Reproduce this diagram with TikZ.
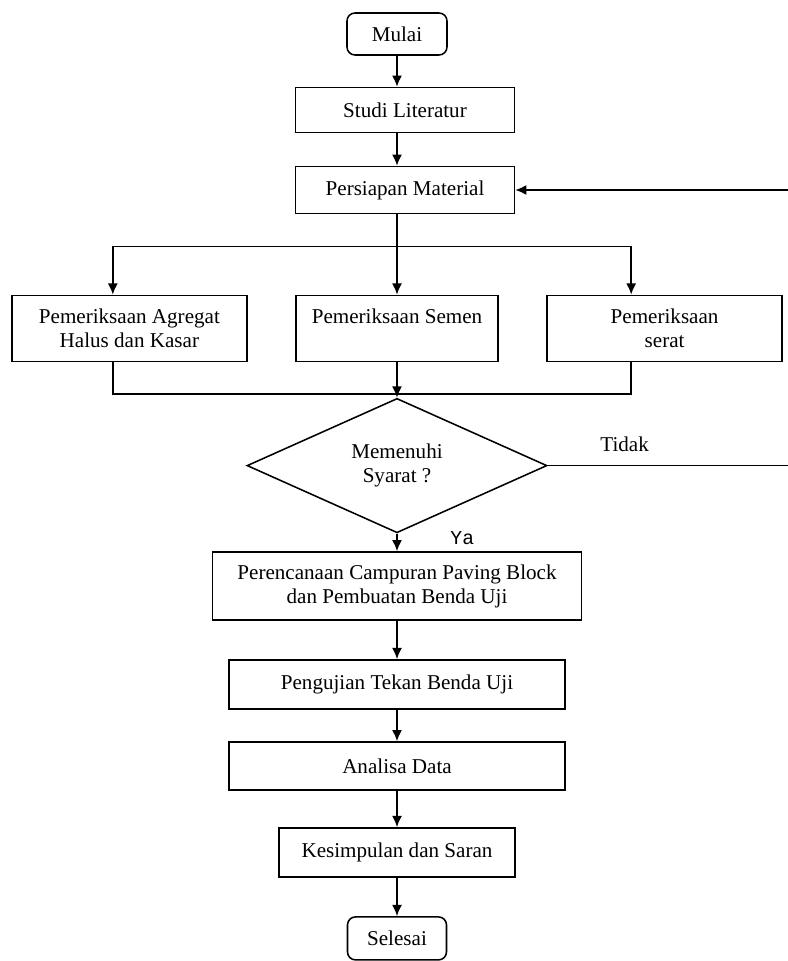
\documentclass[tikz,border=0pt]{standalone}
\usepackage{fontspec}
\setmainfont{Liberation Serif}
\setmonofont{Liberation Mono}
\usetikzlibrary{arrows.meta, shapes}

\begin{document}
\begin{tikzpicture}[node distance=2cm, auto, line width=1.1pt,
    font=\fontsize{15}{17}\selectfont]
\tikzstyle{block} = [rectangle, draw, align=center, inner sep=0pt]
\tikzstyle{terminal} = [rectangle, draw, rounded corners=0.2cm,
    minimum width=2.5cm, minimum height=1.05cm]
\tikzstyle{decision} = [diamond, draw, align=center, inner sep=0pt,
    minimum width=7.5cm, minimum height=2.85cm]
\tikzstyle{line} = [draw, -{Latex[length=2.8mm, width=2.5mm]}]

 \useasboundingbox (0,0) rectangle (19.7,-24.025);

 \node [terminal] (mulai) at (9.925,-0.85) {Mulai};
 \node [block, below of=mulai, node distance=1.9cm, xshift=0.2cm,
    minimum width=5.475cm, minimum height=1.125cm] (studi) {Studi Literatur};
 \node [block, below of=studi, node distance=2cm,
    minimum width=5.475cm, minimum height=1.175cm] (persiapan) {Persiapan Material};

 \node [block, below of=persiapan, node distance=3.46cm, xshift=-0.2cm,
    minimum width=5.05cm, minimum height=1.65cm] (semen) {Pemeriksaan Semen\\~};
 \node [block, left of=semen, node distance=6.69cm,
    minimum width=5.875cm, minimum height=1.65cm] (agregat) {Pemeriksaan Agregat\\Halus dan Kasar};
 \node [block, right of=semen, node distance=6.69cm,
    minimum width=5.875cm, minimum height=1.65cm] (serat) {Pemeriksaan\\serat};

 \node [decision, below of=semen, node distance=3.43cm] (syarat) {Memenuhi\\Syarat ?};

 \node [block, below of=syarat, node distance=3.01cm,
    minimum width=9.225cm, minimum height=1.7cm] (perencanaan) {Perencanaan Campuran Paving Block\\dan Pembuatan Benda Uji};
 \node [block, below of=perencanaan, node distance=2.46cm,
    minimum width=8.4cm, minimum height=1.225cm] (pengujian) {Pengujian Tekan Benda Uji};
 \node [block, below of=pengujian, node distance=2.04cm,
    minimum width=8.4cm, minimum height=1.2cm] (analisa) {Analisa Data};
 \node [block, below of=analisa, node distance=2.16cm,
    minimum width=5.9cm, minimum height=1.225cm] (kesimpulan) {Kesimpulan dan Saran};
 \node [terminal, below of=kesimpulan, node distance=2.15cm,
    minimum width=2.475cm, minimum height=1.075cm] (selesai) {Selesai};

 % titik bantu
 \coordinate (kanan) at (19.7,0);
 \coordinate (tidakend) at (syarat -| kanan);
 \coordinate (balik) at (persiapan -| kanan);
 \path (semen.north) ++(0,1.2) coordinate (split);
 \path (semen.south) ++(0,-0.8) coordinate (gabung);

 \path [line] (mulai) -- (studi.north -| mulai);
 \path [line] (studi.south -| mulai) -- (persiapan.north -| mulai);
 \path [line] (persiapan.south -| semen) -- (semen.north);
 \path [line] (split) -| ([xshift=-0.415cm]agregat.north);
 \path [line] (split) -| ([xshift=-0.835cm]serat.north);

 \draw ([xshift=-0.415cm]agregat.south) |- (gabung);
 \draw ([xshift=-0.835cm]serat.south) |- (gabung);
 \path [line] (semen.south) -- (syarat.north);

 \draw (syarat.east) -- node [above=2mm, pos=0.32] {Tidak} (tidakend);
 \path [line] (balik) -- (persiapan.east);

 \path [line] (syarat) -- node [right=1.2cm, yshift=0.1cm, font=\fontsize{14}{16}\ttfamily] {Ya} (perencanaan);
 \path [line] (perencanaan) -- (pengujian);
 \path [line] (pengujian) -- (analisa);
 \path [line] (analisa) -- (kesimpulan);
 \path [line] (kesimpulan) -- (selesai);
\end{tikzpicture}
\end{document}
